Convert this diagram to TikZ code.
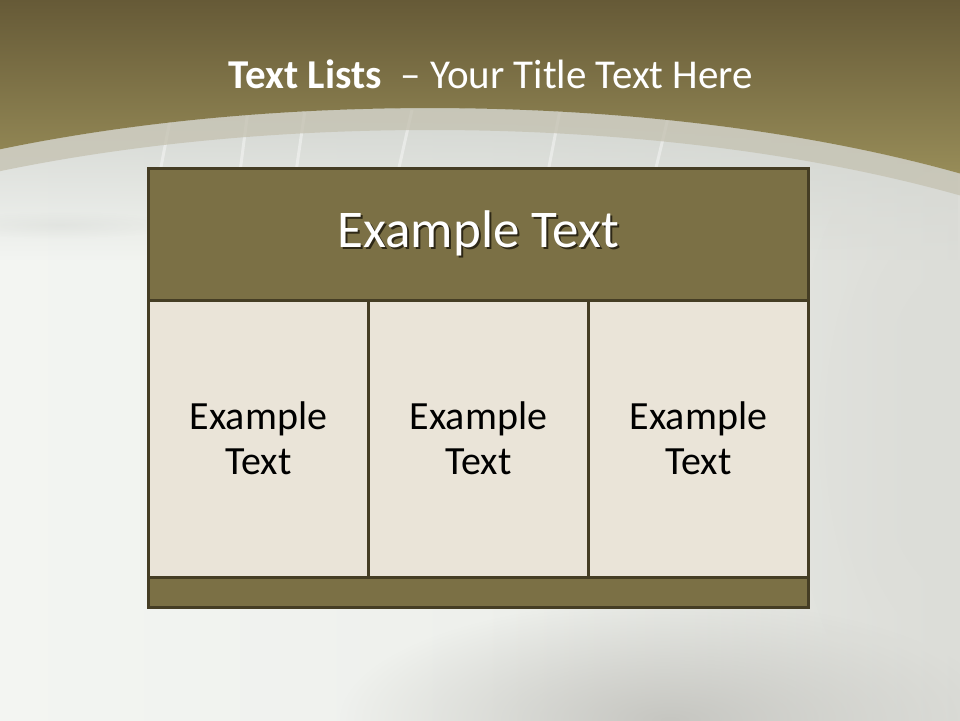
\documentclass[tikz,border=0pt]{standalone}
\usepackage{fontspec}
\setmainfont{Carlito}
\usetikzlibrary{fadings}
\definecolor{hdrfill}{HTML}{7B7045}
\definecolor{edgecol}{HTML}{453D24}
\definecolor{cellfill}{HTML}{EAE4D8}
\definecolor{brTop}{HTML}{665A37}
\definecolor{brBot}{HTML}{978C58}
\definecolor{bgL}{HTML}{F3F5F2}
\definecolor{bgM}{HTML}{EEF0EC}
\definecolor{bgR}{HTML}{DCDDD8}
\definecolor{bandcol}{HTML}{C4C1B0}
\definecolor{haze}{HTML}{D2D5D0}
\definecolor{shadowgrey}{HTML}{C6C6C1}
\definecolor{txtshadow}{HTML}{2E2816}
\tikzfading[name=blob, inner color=transparent!0, outer color=transparent!100]
\tikzfading[name=fadedown, top color=transparent!0, bottom color=transparent!100]
\newcommand\shadowtext[1]{\raisebox{-2pt}{\makebox[0pt][l]{\raisebox{-2pt}{\hspace{2pt}\textcolor{txtshadow}{#1}}}#1}}
\tikzset{
  tablebox/.style={draw=edgecol, line width=3pt, inner sep=0pt, align=center},
  headbox/.style={tablebox, fill=hdrfill, text=white, minimum width=660pt, minimum height=131.5pt, font=\fontsize{53}{62}\selectfont},
  cellbox/.style={tablebox, fill=cellfill, text=black, minimum width=220pt, minimum height=277pt, font=\fontsize{40}{45}\selectfont},
  footbox/.style={tablebox, fill=hdrfill, minimum width=660pt, minimum height=30.5pt},
  titletext/.style={text=white, inner sep=0pt, anchor=base, font=\fontsize{41}{48}\selectfont},
  streak/.style={line width=3pt, white, opacity=0.4},
}
\begin{document}
\begin{tikzpicture}[x=1pt,y=-1pt]
\useasboundingbox (0,0) rectangle (960,720);
\begin{scope}
\clip (0,0) rectangle (960,720);
% light base
\shade[left color=bgL, right color=bgR, middle color=bgM] (0,0) rectangle (960,720);
% grey haze below arc
\fill[haze, path fading=fadedown] (0,100) rectangle (960,260);
% soft grey blobs
\fill[shadowgrey, path fading=blob] (670,720) ellipse [x radius=330, y radius=120];
\fill[bgR, path fading=blob] (960,430) ellipse [x radius=170, y radius=330];
\fill[haze, path fading=blob, opacity=0.35] (60,225) ellipse [x radius=110, y radius=14];
% window streaks inside the arc
\begin{scope}
\clip (0,0) rectangle (960,172);
\draw[streak] (172,110) -- (160,172);
\draw[streak] (248,110) -- (240,172);
\draw[streak] (305,110) -- (296,172);
\draw[streak] (412,110) -- (398,172);
\draw[streak] (560,110) -- (548,172);
\draw[streak] (668,118) -- (655,172);
\end{scope}
% band along the arc
\begin{scope}
\clip (0,0) rectangle (960,320);
\fill[bandcol, opacity=0.75, even odd rule] (430,408) ellipse [x radius=850, y radius=300] (430,430) ellipse [x radius=850, y radius=300];
\end{scope}
% brown top region above the arc
\shade[top color=brTop, bottom color=brBot] (0,0) -- (960,0) -- (960,173.5)
  arc [start angle=-51.43, end angle=-120.39, x radius=850, y radius=300] -- cycle;
\end{scope}
% title
\node[titletext] (title) at (491,88) {\textbf{Text Lists}\ \ – Your Title Text Here};
% table
\node[headbox] (head) at (478.5,234.25) {\shadowtext{Example Text}};
\node[cellbox] (c1) at (258.5,438.5) {Example\\Text};
\node[cellbox] (c2) at (478.5,438.5) {Example\\Text};
\node[cellbox] (c3) at (698.5,438.5) {Example\\Text};
\node[footbox] (foot) at (478.5,592.25) {};
\end{tikzpicture}
\end{document}
